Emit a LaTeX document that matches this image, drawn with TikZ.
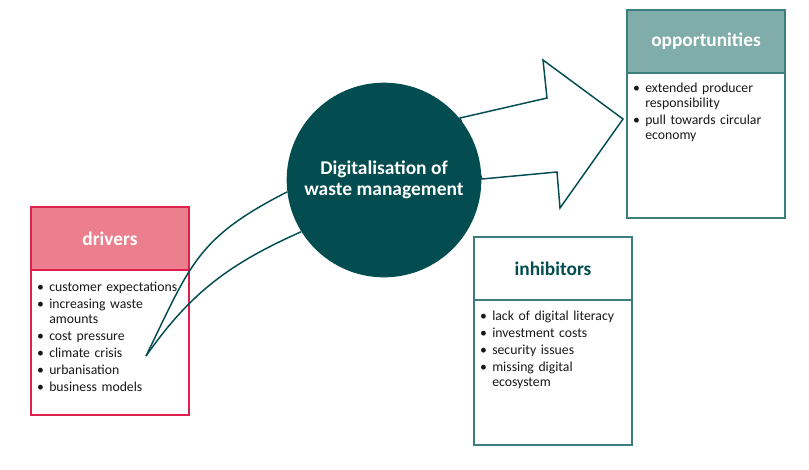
\documentclass[tikz,border=0pt]{standalone}
\usepackage{fontspec}
\setmainfont{Carlito}
\usepackage{tikz}
\usetikzlibrary{positioning}
\usepackage{xcolor}

\definecolor{wteal}{HTML}{034D51}
\definecolor{lteal}{HTML}{80ADA9}
\definecolor{bteal}{HTML}{3B7E7B}
\definecolor{lpink}{HTML}{EB7F8E}
\definecolor{bred}{HTML}{DF1F4B}

\newcommand{\itemlist}[1]{\raggedright\begin{list}{\textbullet}{\setlength{\leftmargin}{13.5pt}\setlength{\labelsep}{4pt}\setlength{\labelwidth}{9.5pt}\setlength{\itemsep}{1.5pt}\setlength{\parsep}{0pt}\setlength{\topsep}{0pt}\setlength{\partopsep}{0pt}}#1\end{list}}

\begin{document}
\begin{tikzpicture}[x=0.75pt,y=-0.75pt]
      \tikzstyle{head} = [rectangle, draw, outer sep=0pt, minimum width=118.5pt, minimum height=47.25pt, inner sep=0pt, font=\fontsize{14.5}{16}\selectfont\bfseries]
      \tikzstyle{body} = [rectangle, draw, outer sep=0pt, fill=white, minimum width=118.5pt, minimum height=108.75pt, inner sep=0pt]
      \tikzstyle{items} = [text width=112pt, inner sep=0pt, anchor=north west, font=\fontsize{10.3}{11.25}\selectfont, text=black!90]
      \tikzstyle{core} = [circle, fill=wteal, minimum size=146pt, text=white, align=center, font=\fontsize{14.6}{15.5}\selectfont\bfseries]
      \tikzstyle{flow} = [wteal, line width=1.1pt]

      \useasboundingbox (0,0) rectangle (809,469);

      \node[head, draw=bred, fill=lpink, text=white, line width=1.1pt, anchor=north west] (drv) at (31,207) {drivers};
      \node[body, draw=bred, line width=1.1pt, below=0pt of drv] (drvbody) {};
      \node[items] (drvlist) at ([yshift=-4.4pt]drvbody.north west) {\itemlist{
        \item customer expectations
        \item increasing waste\\amounts
        \item cost pressure
        \item climate crisis
        \item urbanisation
        \item business models}};

      \node[head, draw=bteal, fill=lteal, text=white, line width=0.9pt, anchor=north west] (opp) at (627,10) {opportunities};
      \node[body, draw=bteal, line width=0.9pt, below=0pt of opp] (oppbody) {};
      \node[items] (opplist) at ([yshift=-3pt]oppbody.north west) {\itemlist{
        \item extended producer\\responsibility
        \item pull towards circular\\economy}};

      \node[head, draw=bteal, fill=white, text=wteal, line width=0.9pt, anchor=north west] (inh) at (474,237) {inhibitors};
      \node[body, draw=bteal, line width=0.9pt, below=0pt of inh] (inhbody) {};
      \node[items] (inhlist) at ([yshift=-4pt]inhbody.north west) {\itemlist{
        \item lack of digital literacy
        \item investment costs
        \item security issues
        \item missing digital\\ecosystem}};

      % big arrow towards opportunities
      \draw[flow, fill=white, line join=miter] (460,118) -- (547,98) -- (543,60) -- (623,119) -- (560,208) -- (557,172) -- (482,179) -- cycle;

      \node[core] (dig) at (384,180) {Digitalisation of\\waste management};

      \coordinate (tip) at (146,356);
      \draw[flow] (tip) to[out=64, in=207, looseness=1.2] (dig.187.6);
      \draw[flow] (tip) to[out=55, in=204] (dig.212.2);
    \end{tikzpicture}
\end{document}
